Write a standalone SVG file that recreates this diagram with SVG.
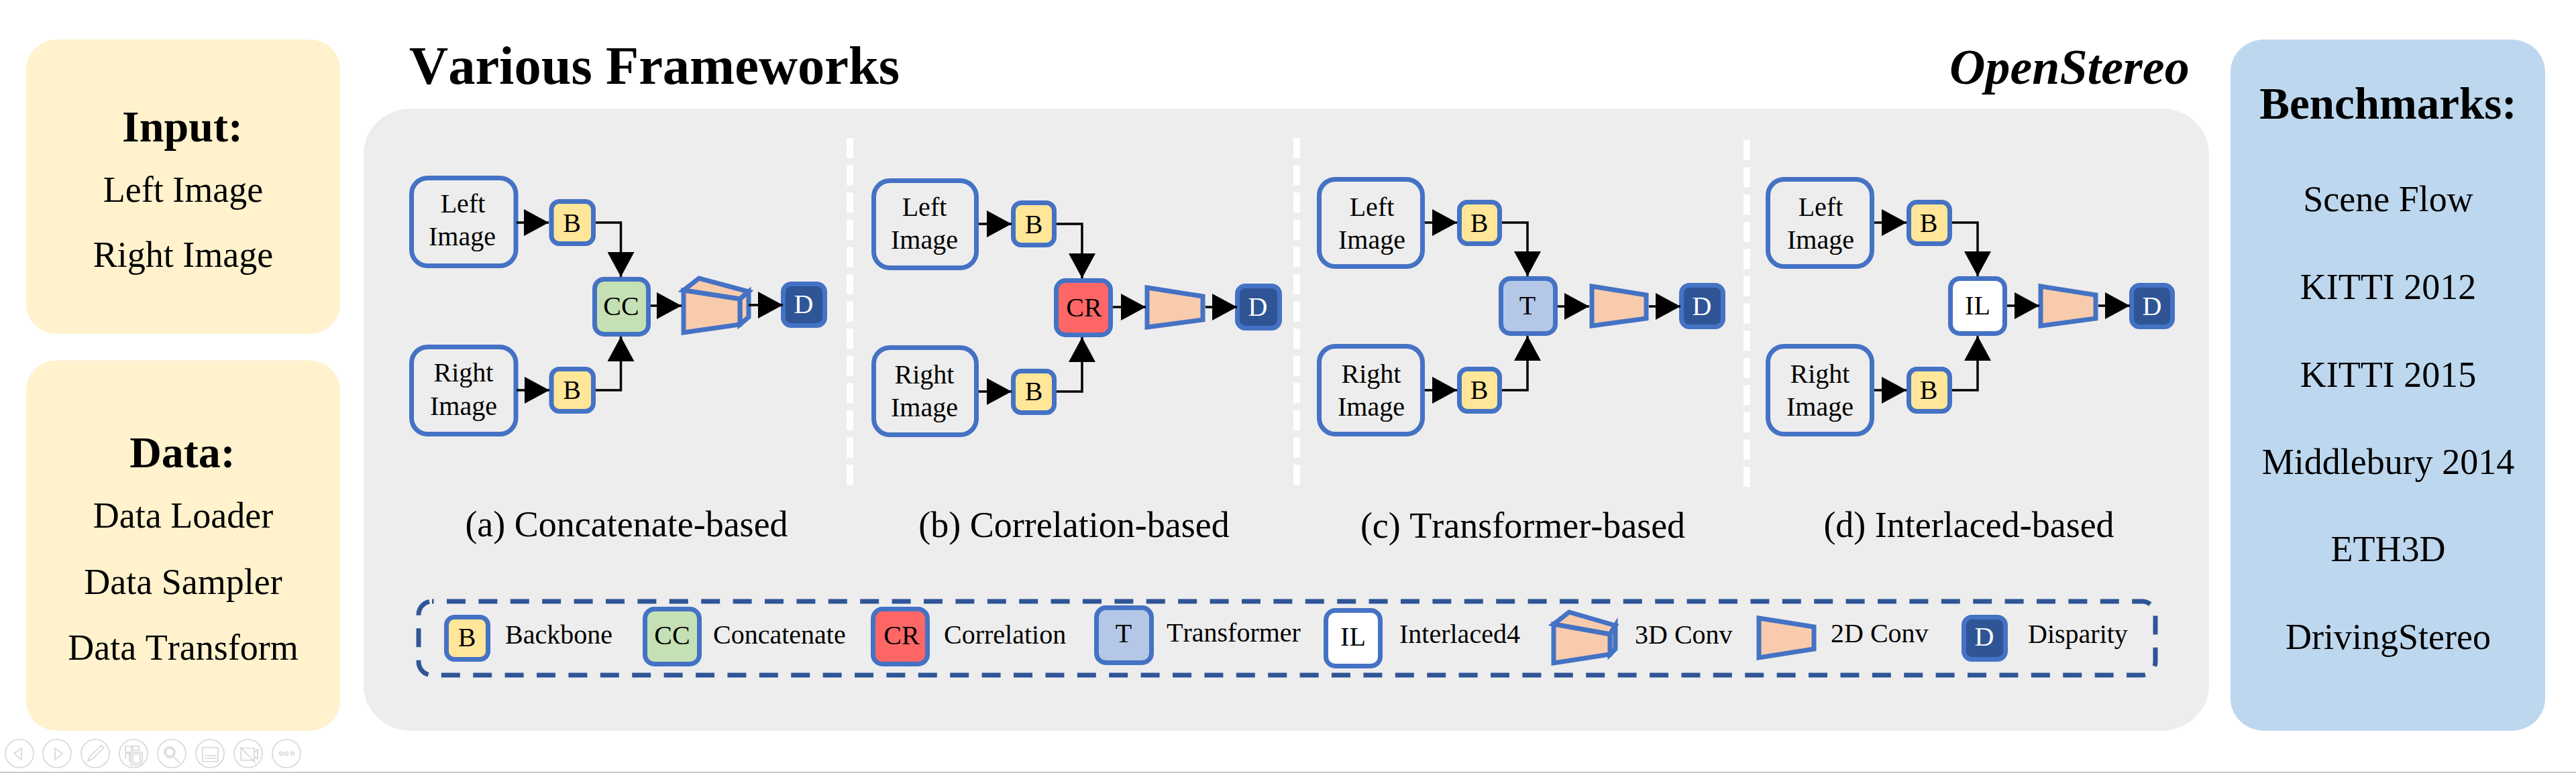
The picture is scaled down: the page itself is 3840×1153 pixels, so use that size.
<svg xmlns="http://www.w3.org/2000/svg" width="3840" height="1153" viewBox="0 0 3840 1153">
<style>
text{font-family:"Liberation Serif","Times New Roman",serif;fill:#000;text-anchor:middle;font-kerning:none}
.h{font-weight:700;font-size:66px}
.hb{font-weight:700;font-size:67px}
.t{font-size:54px}
.n{font-size:40px}
.lg{font-size:40px;text-anchor:start}
.title{font-weight:700;font-size:80.5px;text-anchor:start}
.brand{font-weight:700;font-style:italic;font-size:74px;text-anchor:start}
.w{fill:#fff}
.box{stroke:#4472C4;stroke-width:7}
.img{fill:#EDEDED}
.b{fill:#FFE699}
.cc{fill:#C5E0B4}
.cr{fill:#FF6666}
.tr{fill:#B4C7E7}
.il{fill:#fff}
.d{fill:#2F5597}
.conv{fill:#F8CBAD;stroke:#4472C4;stroke-width:7;stroke-miterlimit:10}
.sep{stroke:#fff;stroke-width:10;stroke-dasharray:30 10.6;fill:none}
.conn{fill:none;stroke:#000;stroke-width:3.5;marker-end:url(#ah)}
.ui{fill:none;stroke:#D6D6D6;stroke-width:1.6}
</style>
<defs>
<marker id="ah" markerUnits="userSpaceOnUse" markerWidth="40" markerHeight="40" refX="37" refY="20" orient="auto" viewBox="0 0 40 40"><path d="M0 0L37 20L0 40z" fill="#000"/></marker>
</defs>

<g id="panel-input"><rect x="39" y="59" width="468" height="439" rx="46" ry="44" fill="#FFF2CC"/>
<text class="h" x="272" y="211">Input:</text><text class="t" x="273" y="301">Left Image</text><text class="t" x="273" y="398">Right Image</text></g>
<g id="panel-data"><rect x="39" y="537.500" width="468" height="552.500" rx="46" ry="44" fill="#FFF2CC"/>
<text class="h" x="272" y="697">Data:</text><text class="t" x="273" y="787">Data Loader</text><text class="t" x="273" y="886">Data Sampler</text><text class="t" x="273" y="984">Data Transform</text></g>
<g id="panel-frameworks"><rect x="542" y="162" width="2751" height="928" rx="70" ry="68" fill="#EDEDED"/></g>
<g id="panel-benchmarks"><rect x="3325" y="59" width="469" height="1031" rx="50" ry="48" fill="#BDD7EE"/>
<text class="hb" x="3560" y="177">Benchmarks:</text><text class="t" x="3560" y="315">Scene Flow</text><text class="t" x="3560" y="446">KITTI 2012</text><text class="t" x="3560" y="577">KITTI 2015</text><text class="t" x="3560" y="707">Middlebury 2014</text><text class="t" x="3560" y="837">ETH3D</text><text class="t" x="3560" y="968">DrivingStereo</text></g>
<g id="titles"><text class="title" x="610" y="125">Various Frameworks</text><text class="brand" x="2906" y="125">OpenStereo</text></g>
<g id="separators"><path class="sep" d="M1267 206V724"/><path class="sep" d="M1933 206V724"/><path class="sep" d="M2604 209V727"/></g>

<g id="a-left"><rect class="box img" x="613.500" y="265.500" width="155.500" height="131" rx="24"/><text class="n" x="690" y="317">Left</text><text class="n" x="689" y="366">Image</text></g>
<g id="a-right"><rect class="box img" x="613.500" y="517.500" width="155.500" height="130" rx="24"/><text class="n" x="691" y="569">Right</text><text class="n" x="691" y="619">Image</text></g>
<g id="a-b1"><rect class="box b" x="822" y="300.500" width="62.500" height="63" rx="12"/><text class="n" x="852.500" y="346">B</text></g>
<g id="a-b2"><rect class="box b" x="822" y="550.500" width="62.500" height="63" rx="12"/><text class="n" x="852.500" y="595">B</text></g>
<g id="a-cc"><rect class="box cc" x="886.500" y="416.500" width="80" height="82" rx="14"/><text class="n" x="926" y="470">CC</text></g>
<g id="a-conv"><path class="conv" d="M1019 433L1042 415L1116 435L1103 446Z"/><path class="conv" d="M1116 435V473L1103 484V446Z"/><path class="conv" d="M1019 433L1103 446V484L1019 496Z"/></g>
<g id="a-d"><rect class="box d" x="1167.500" y="423.500" width="62" height="62" rx="12"/><text class="n w" x="1198" y="467">D</text></g>
<text class="t" x="934" y="800">(a) Concatenate-based</text>

<g id="b-left"><rect class="box img" x="1302.500" y="269.500" width="153" height="130" rx="24"/><text class="n" x="1378" y="322">Left</text><text class="n" x="1378" y="371">Image</text></g>
<g id="b-right"><rect class="box img" x="1302.500" y="518.500" width="153" height="130" rx="24"/><text class="n" x="1378" y="572">Right</text><text class="n" x="1378" y="621">Image</text></g>
<g id="b-b1"><rect class="box b" x="1510.500" y="302.500" width="61" height="63" rx="12"/><text class="n" x="1541" y="348">B</text></g>
<g id="b-b2"><rect class="box b" x="1510.500" y="553.500" width="61" height="62" rx="12"/><text class="n" x="1541" y="597">B</text></g>
<g id="b-cr"><rect class="box cr" x="1574.500" y="418.500" width="81" height="81" rx="14"/><text class="n" x="1616" y="472">CR</text></g>
<g id="b-conv"><path class="conv" d="M1710 429L1793 442V477L1710 488Z"/></g>
<g id="b-d"><rect class="box d" x="1844.500" y="426.500" width="63" height="63" rx="12"/><text class="n w" x="1875" y="471">D</text></g>
<text class="t" x="1601" y="801">(b) Correlation-based</text>

<g id="c-left"><rect class="box img" x="1966.500" y="267.500" width="154" height="130" rx="24"/><text class="n" x="2045" y="322">Left</text><text class="n" x="2045" y="371">Image</text></g>
<g id="c-right"><rect class="box img" x="1966.500" y="516.500" width="154" height="131" rx="24"/><text class="n" x="2044" y="571">Right</text><text class="n" x="2044" y="620">Image</text></g>
<g id="c-b1"><rect class="box b" x="2175.500" y="301.500" width="60" height="62" rx="12"/><text class="n" x="2205" y="346">B</text></g>
<g id="c-b2"><rect class="box b" x="2175.500" y="550.500" width="60" height="63" rx="12"/><text class="n" x="2205" y="595">B</text></g>
<g id="c-t"><rect class="box tr" x="2237.500" y="415.500" width="81" height="82" rx="14"/><text class="n" x="2277" y="469">T</text></g>
<g id="c-conv"><path class="conv" d="M2373 427L2454 440V475L2373 486Z"/></g>
<g id="c-d"><rect class="box d" x="2506.500" y="425.500" width="62" height="62" rx="12"/><text class="n w" x="2537" y="470">D</text></g>
<text class="t" x="2270" y="802">(c) Transformer-based</text>

<g id="d-left"><rect class="box img" x="2635.500" y="267.500" width="155" height="130" rx="24"/><text class="n" x="2714" y="322">Left</text><text class="n" x="2714" y="371">Image</text></g>
<g id="d-right"><rect class="box img" x="2635.500" y="516.500" width="155" height="131" rx="24"/><text class="n" x="2713" y="571">Right</text><text class="n" x="2713" y="620">Image</text></g>
<g id="d-b1"><rect class="box b" x="2845.500" y="301.500" width="61" height="62" rx="12"/><text class="n" x="2875" y="346">B</text></g>
<g id="d-b2"><rect class="box b" x="2845.500" y="550.500" width="61" height="63" rx="12"/><text class="n" x="2875" y="595">B</text></g>
<g id="d-il"><rect class="box il" x="2907.500" y="415.500" width="81" height="82" rx="14"/><text class="n" x="2948" y="469">IL</text></g>
<g id="d-conv"><path class="conv" d="M3042 427L3124 440V475L3042 486Z"/></g>
<g id="d-d"><rect class="box d" x="3177.500" y="425.500" width="61" height="62" rx="12"/><text class="n w" x="3208" y="470">D</text></g>
<text class="t" x="2935" y="801">(d) Interlaced-based</text>

<g id="connectors">
<path class="conn" d="M770 332H818"/><path class="conn" d="M888 332H925.500V413"/><path class="conn" d="M770 582H819"/><path class="conn" d="M888 582H925.500V502"/><path class="conn" d="M970 456H1016"/><path class="conn" d="M1116 455H1167"/>
<path class="conn" d="M1459 334H1508"/><path class="conn" d="M1575 334H1613V415"/><path class="conn" d="M1459 584H1508"/><path class="conn" d="M1575 584H1613V503"/><path class="conn" d="M1659 458H1708"/><path class="conn" d="M1797 458H1844"/>
<path class="conn" d="M2124 332H2172"/><path class="conn" d="M2239 332H2277V412"/><path class="conn" d="M2124 582H2172"/><path class="conn" d="M2239 582H2277V501"/><path class="conn" d="M2322 457H2369"/><path class="conn" d="M2458 457H2505"/>
<path class="conn" d="M2794 332H2842"/><path class="conn" d="M2910 332H2948V412"/><path class="conn" d="M2794 582H2842"/><path class="conn" d="M2910 582H2948V501"/><path class="conn" d="M2992 456H3040"/><path class="conn" d="M3128 456H3175"/>
</g>

<g id="legend">
<rect x="624" y="897" width="2589" height="110" rx="20" fill="none" stroke="#2F5597" stroke-width="7" stroke-dasharray="28 19.4" stroke-dashoffset="25.4"/>
<g id="lg-b"><rect class="box b" x="665.500" y="920.500" width="62" height="63" rx="12"/><text class="n" x="696" y="964">B</text></g><text class="lg" x="753" y="960">Backbone</text>
<g id="lg-cc"><rect class="box cc" x="961.500" y="908.500" width="81" height="82" rx="14"/><text class="n" x="1002" y="961">CC</text></g><text class="lg" x="1063" y="960">Concatenate</text>
<g id="lg-cr"><rect class="box cr" x="1301.500" y="908.500" width="81" height="82" rx="14"/><text class="n" x="1344" y="961">CR</text></g><text class="lg" x="1407" y="960">Correlation</text>
<g id="lg-t"><rect class="box tr" x="1634.500" y="906.500" width="82" height="82" rx="14"/><text class="n" x="1675" y="958">T</text></g><text class="lg" x="1739" y="957">Transformer</text>
<g id="lg-il"><rect class="box il" x="1976.500" y="910.500" width="81" height="83" rx="14"/><text class="n" x="2017" y="963">IL</text></g><text class="lg" x="2086" y="959">Interlaced4</text>
<g id="lg-3d"><path class="conv" d="M2316 931L2339 913L2408 933L2400 946Z"/><path class="conv" d="M2408 933V968L2400 976V946Z"/><path class="conv" d="M2316 931L2400 946V976L2316 989Z"/></g><text class="lg" x="2437" y="960">3D Conv</text>
<g id="lg-2d"><path class="conv" d="M2622 922L2704 935V968L2622 981Z"/></g><text class="lg" x="2729" y="958">2D Conv</text>
<g id="lg-d"><rect class="box d" x="2927.500" y="920.500" width="62" height="63" rx="12"/><text class="n w" x="2958" y="963">D</text></g><text class="lg" x="3023" y="959">Disparity</text>
</g>

<g id="player-toolbar">
<g class="ui"><circle cx="29" cy="1124" r="21"/><circle cx="85" cy="1124" r="21"/><circle cx="142" cy="1124" r="21"/><circle cx="199" cy="1124" r="21"/><circle cx="256" cy="1124" r="21"/><circle cx="313" cy="1124" r="21"/><circle cx="370" cy="1124" r="21"/><circle cx="427" cy="1124" r="21"/>
<path d="M21 1124L32 1116V1133Z"/><path d="M82 1116L93 1124L82 1133Z"/>
<path d="M131 1135L134 1128L151 1112L155 1115L138 1132Z"/>
<path d="M187 1113H196V1122H187ZM198 1113H207V1119H198ZM187 1132V1124H193V1136M195 1122H212V1141H195ZM198 1125H209V1138H198Z"/>
<circle cx="253" cy="1122" r="8"/><circle cx="253" cy="1122" r="6"/><path d="M259 1129L268 1138"/>
<path d="M302 1115H325V1136H302ZM305 1127H323M305 1131H323"/>
<path d="M359 1116H379V1134H359ZM384 1118V1132L379 1128V1122ZM358 1114L381 1138"/>
<circle cx="419" cy="1124" r="2.5"/><circle cx="427" cy="1124" r="2.5"/><circle cx="436" cy="1124" r="2.5"/></g>
<path d="M0 1152H3840" stroke="#CCCCCC" stroke-width="2"/>
</g>
</svg>
